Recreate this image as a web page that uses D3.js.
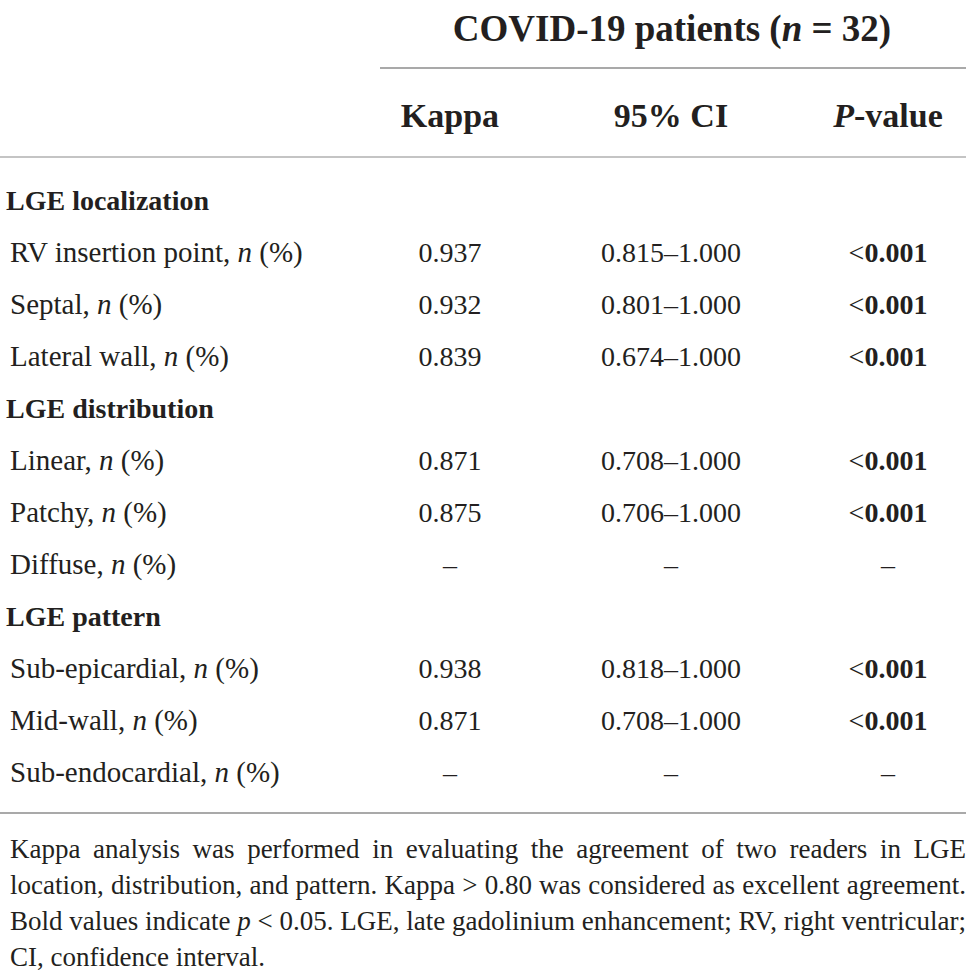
<!DOCTYPE html>
<html>
<head>
<meta charset="utf-8">
<script src="https://cdn.jsdelivr.net/npm/d3@7"></script>
<style>
  body { margin: 0; background: #fff; }
  text { font-family: "Liberation Serif", "DejaVu Serif", serif; fill: #231f20; }
</style>
</head>
<body>
<div id="chart-area"></div>
<script>
// table content
var columns = ["Kappa", "95% CI", "P-value"];
var groups = ["LGE localization", "LGE distribution", "LGE pattern"];
var rowLabels = ["RV insertion point", "Septal", "Lateral wall",
                 "Linear", "Patchy", "Diffuse",
                 "Sub-epicardial", "Mid-wall", "Sub-endocardial"];
var rowGroup = [0, 0, 0, 1, 1, 1, 2, 2, 2];
var kappa = ["0.937", "0.932", "0.839", "0.871", "0.875", "–", "0.938", "0.871", "–"];
var ci = ["0.815–1.000", "0.801–1.000", "0.674–1.000", "0.708–1.000", "0.706–1.000", "–",
          "0.818–1.000", "0.708–1.000", "–"];
var pval = ["0.001", "0.001", "0.001", "0.001", "0.001", "–", "0.001", "0.001", "–"];
var footnote = [
  "Kappa analysis was performed in evaluating the agreement of two readers in LGE",
  "location, distribution, and pattern. Kappa > 0.80 was considered as excellent agreement.",
  "Bold values indicate p < 0.05. LGE, late gadolinium enhancement; RV, right ventricular;",
  "CI, confidence interval."
];

var W = 972, H = 974;
var svg = d3.select("#chart-area")
    .append("svg")
        .attr("width", W)
        .attr("height", H);

// build the list of lines: group headers interleaved with rows
var lines = [];
rowLabels.forEach(function(r, i) {
    if (i === 0 || rowGroup[i] !== rowGroup[i - 1]) {
        lines.push({type: "group", label: groups[rowGroup[i]]});
    }
    lines.push({type: "row", label: r, k: kappa[i], ci: ci[i], p: pval[i]});
});

var y = d3.scaleLinear()
    .domain([0, lines.length - 1])
    .range([210, 782]);  // baselines of first and last line

var x = d3.scalePoint()
    .domain(columns)
    .range([450, 888]);
// 95% CI sits a bit right of the middle
var colX = {"Kappa": x("Kappa"), "95% CI": 671, "P-value": x("P-value")};

// title
var title = svg.append("text")
    .attr("x", 672).attr("y", 41)
    .attr("text-anchor", "middle")
    .style("font-size", "37px").style("font-weight", "bold");
title.append("tspan").text("COVID-19 patients (");
title.append("tspan").style("font-style", "italic").text("n");
title.append("tspan").text(" = 32)");

// rules
svg.append("line").attr("x1", 380).attr("x2", 966).attr("y1", 68).attr("y2", 68)
    .attr("stroke", "#8c8c8c").attr("stroke-width", 1.5);
svg.append("line").attr("x1", 0).attr("x2", 966).attr("y1", 157).attr("y2", 157)
    .attr("stroke", "#b0b0b0").attr("stroke-width", 1.5);
svg.append("line").attr("x1", 0).attr("x2", 966).attr("y1", 813).attr("y2", 813)
    .attr("stroke", "#8c8c8c").attr("stroke-width", 1.5);

// column headers
columns.forEach(function(c) {
    var t = svg.append("text")
        .attr("x", colX[c]).attr("y", 127)
        .attr("text-anchor", "middle")
        .style("font-size", "34px").style("font-weight", "bold");
    if (c === "P-value") {
        t.append("tspan").style("font-style", "italic").text("P");
        t.append("tspan").text("-value");
    } else {
        t.text(c);
    }
});

// body
var g = svg.selectAll("g.line")
        .data(lines)
    .enter()
        .append("g")
        .attr("class", "line")
        .attr("transform", function(d, i) { return "translate(0," + y(i) + ")"; });

g.filter(function(d) { return d.type === "group"; })
    .append("text")
        .attr("x", 6)
        .style("font-size", "28px").style("font-weight", "bold")
        .text(function(d) { return d.label; });

var rows = g.filter(function(d) { return d.type === "row"; });

var lab = rows.append("text")
    .attr("x", 10)
    .style("font-size", "29px");
lab.append("tspan").text(function(d) { return d.label + ", "; });
lab.append("tspan").style("font-style", "italic").text("n");
lab.append("tspan").text(" (%)");

rows.append("text")
    .attr("x", colX["Kappa"]).attr("text-anchor", "middle")
    .style("font-size", "28px")
    .text(function(d) { return d.k; });

rows.append("text")
    .attr("x", colX["95% CI"]).attr("text-anchor", "middle")
    .style("font-size", "28px")
    .text(function(d) { return d.ci; });

var pt = rows.append("text")
    .attr("x", colX["P-value"]).attr("text-anchor", "middle")
    .style("font-size", "28px");
pt.each(function(d) {
    var t = d3.select(this);
    if (d.p === "–") {
        t.text("–");
    } else {
        t.append("tspan").text("<");
        t.append("tspan").style("font-weight", "bold").text(d.p);
    }
});

// footnote, justified word by word
var left = 10, right = 966;
footnote.forEach(function(line, li) {
    var words = line.split(" ");
    var yy = 858 + li * 36;
    var nodes = words.map(function(w) {
        var t = svg.append("text")
            .attr("y", yy)
            .style("font-size", "27px")
            .text(w);
        if (w === "p") t.style("font-style", "italic");
        return t;
    });
    var widths = nodes.map(function(t) { return t.node().getComputedTextLength(); });
    var total = d3.sum(widths);
    var last = li === footnote.length - 1;
    var gap = last ? 6.8 : (right - left - total) / (words.length - 1);
    var cx = left;
    nodes.forEach(function(t, i) {
        t.attr("x", cx);
        cx += widths[i] + gap;
    });
});
</script>
</body>
</html>
